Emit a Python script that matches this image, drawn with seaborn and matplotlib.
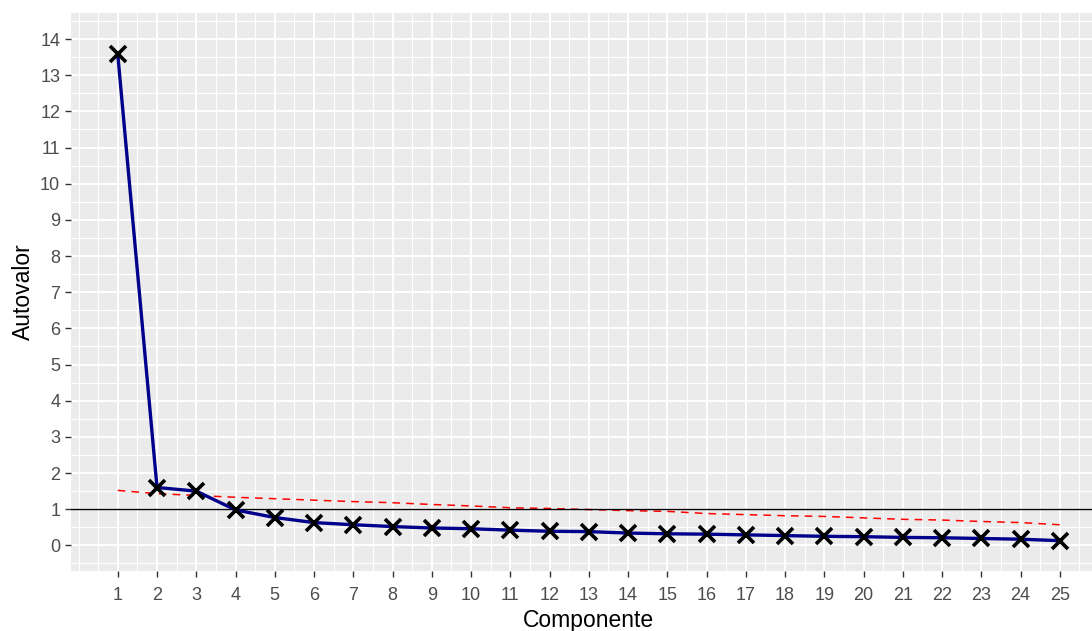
import numpy as np
import pandas as pd
import matplotlib
matplotlib.use("Agg")
import matplotlib.pyplot as plt
import seaborn as sns

# Autovalori osservati (linea blu) e linea di riferimento (tratteggiata rossa)
componente = list(range(1, 26))
autovalor = [13.58, 1.60, 1.50, 0.98, 0.77, 0.63, 0.57, 0.52, 0.48, 0.46,
             0.42, 0.39, 0.38, 0.34, 0.32, 0.31, 0.29, 0.27, 0.25, 0.24,
             0.22, 0.21, 0.19, 0.17, 0.13]
referencia = [1.52, 1.43, 1.38, 1.33, 1.29, 1.25, 1.21, 1.18, 1.13, 1.09,
              1.04, 1.02, 0.99, 0.96, 0.94, 0.88, 0.85, 0.82, 0.80, 0.76,
              0.72, 0.70, 0.66, 0.63, 0.57]
yticks = list(range(0, 15))

df = pd.DataFrame({"Componente": componente, "Autovalor": autovalor,
                   "Referencia": referencia})

sns.set_theme(style="darkgrid", rc={
    "axes.facecolor": "#EBEBEB",
    "grid.color": "white",
    "axes.edgecolor": "none",
    "xtick.bottom": True,
    "ytick.left": True,
})
plt.rcParams["font.family"] = ["Liberation Sans", "DejaVu Sans"]

fig = plt.figure(figsize=(10.92, 6.31), dpi=100)
ax = fig.add_axes([0.0647, 0.0956, 1.0137 - 0.0647, 0.9799 - 0.0956])

sns.lineplot(data=df, x="Componente", y="Referencia", ax=ax, color="red",
             linewidth=1.1, dashes=False, linestyle=(0, (5, 4)), zorder=2)
ax.axhline(1, color="black", linewidth=1.0, zorder=3)
sns.lineplot(data=df, x="Componente", y="Autovalor", ax=ax, color="#00008B",
             linewidth=2.4, marker="x", markersize=11, markeredgewidth=2.6,
             markeredgecolor="black", zorder=4)

ax.set_xticks(componente)
ax.set_yticks(yticks)
ax.set_xticks(np.arange(-0.5, 27, 0.5), minor=True)
ax.set_yticks(np.arange(-0.5, 15, 0.5), minor=True)
ax.set_xlim(-0.2, 26.2)
ax.set_ylim(-0.7, 14.73)
ax.grid(True, which="major", color="white", linewidth=1.4)
ax.grid(True, which="minor", color="white", linewidth=0.8)
ax.tick_params(axis="both", which="major", length=4.5, width=1, color="#333333",
               labelsize=13, labelcolor="#4D4D4D")
ax.tick_params(axis="x", which="major", pad=7)
ax.tick_params(axis="y", which="major", pad=3)
ax.tick_params(axis="both", which="minor", length=0)

ax.set_xlabel("Componente", fontsize=16.5, color="black", labelpad=4)
ax.set_ylabel("Autovalor", fontsize=16.5, color="black", labelpad=4)

fig.savefig("out.png", dpi=100)
